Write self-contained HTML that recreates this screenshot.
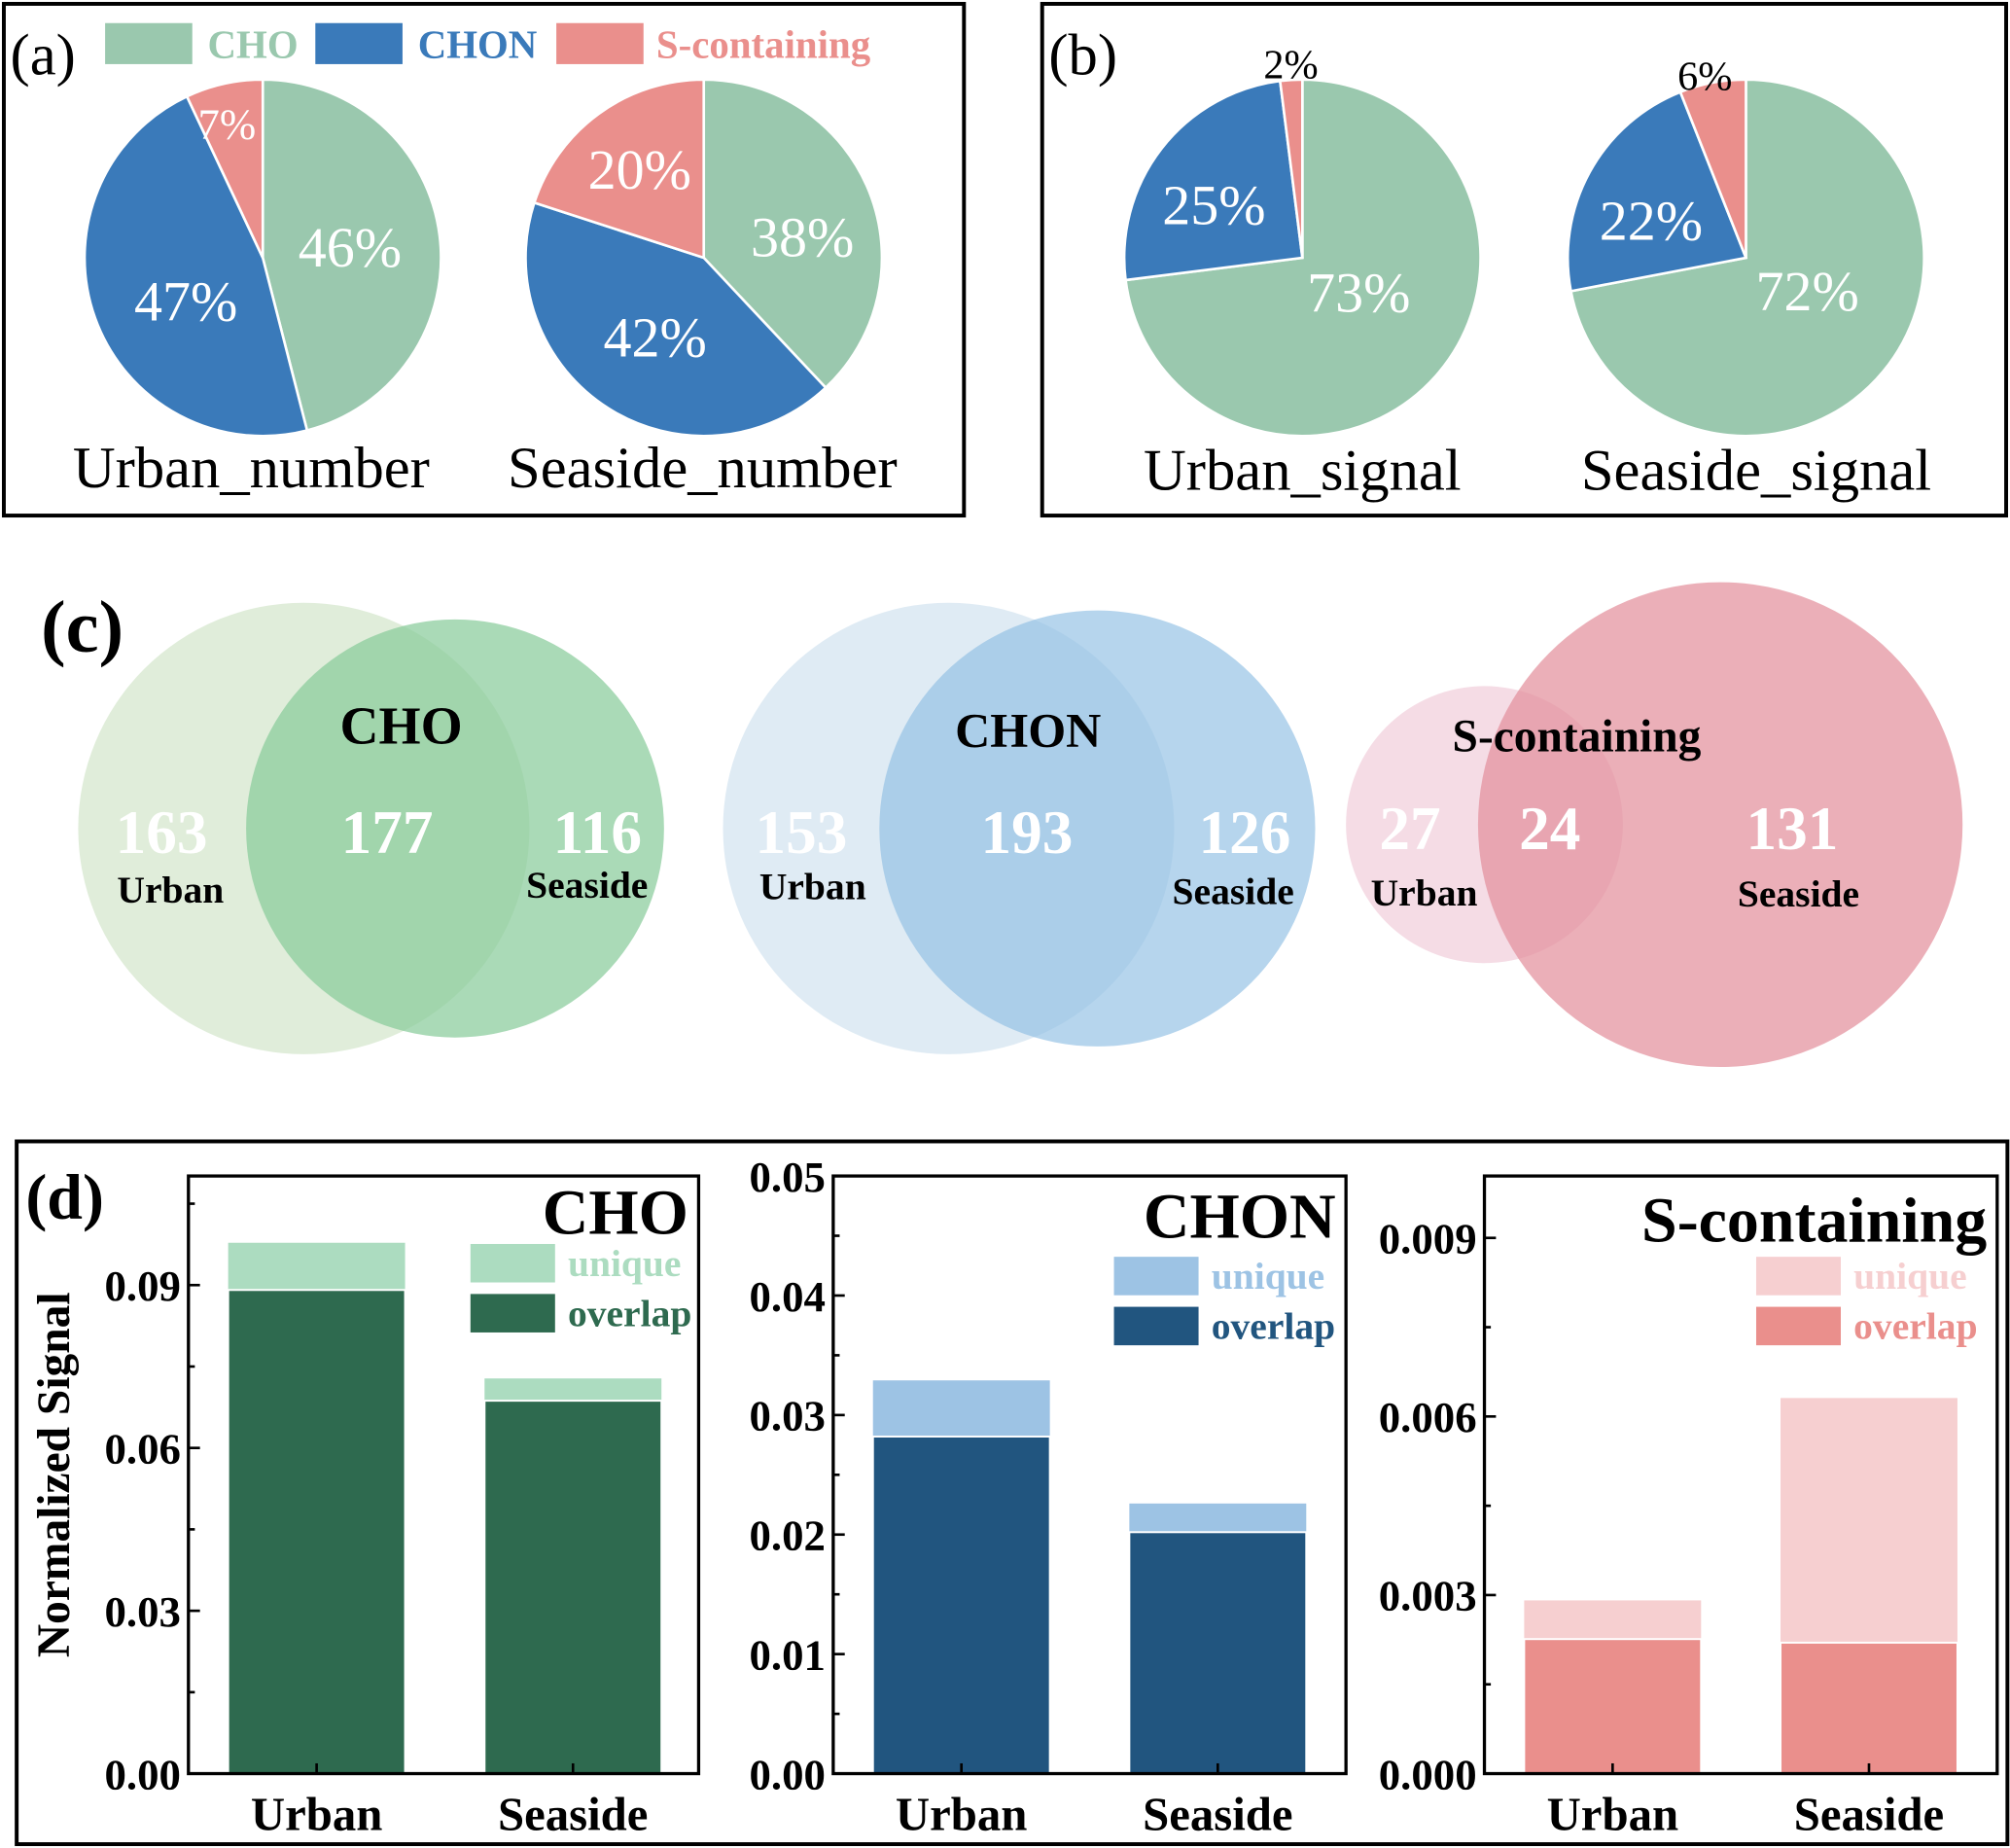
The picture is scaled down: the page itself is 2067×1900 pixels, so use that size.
<!DOCTYPE html>
<html><head><meta charset="utf-8"><style>
html,body{margin:0;padding:0;background:#fff}
svg{display:block;font-family:"Liberation Serif","Times New Roman",serif}
text{font-family:"Liberation Serif","Times New Roman",serif}
</style></head><body>
<svg id="fig" width="2067" height="1900" viewBox="0 0 1568 1441" preserveAspectRatio="none" xmlns="http://www.w3.org/2000/svg">
<rect x="0" y="0" width="1568" height="1441" fill="#fff"/>
<g id="pa">
<rect x="3" y="3" width="749" height="399" fill="none" stroke="#000" stroke-width="3"/>
<text x="8" y="58" font-size="46">(a)</text>
<rect x="82" y="18" width="68" height="32" fill="#9ac8ae"/><text x="162" y="45" font-size="31" font-weight="bold" fill="#9ac8ae">CHO</text>
<rect x="246" y="18" width="68" height="32" fill="#3a7aba"/><text x="326" y="45" font-size="31" font-weight="bold" fill="#3a7aba">CHON</text>
<rect x="434" y="18" width="68" height="32" fill="#ea8f8c"/><text x="512" y="45" font-size="31" font-weight="bold" fill="#ea8f8c">S-containing</text>
<text x="196" y="380" font-size="46" text-anchor="middle">Urban_number</text>
<text x="548" y="380" font-size="46" text-anchor="middle">Seaside_number</text>
</g>
<g id="pb">
<rect x="813" y="3" width="752" height="399" fill="none" stroke="#000" stroke-width="3"/>
<text x="818" y="58" font-size="46">(b)</text>
<text x="1016" y="382" font-size="46" text-anchor="middle">Urban_signal</text>
<text x="1370" y="382" font-size="46" text-anchor="middle">Seaside_signal</text>
</g>
<g id="pies"></g>
<g id="pc">
<text x="32" y="508" font-size="58" font-weight="bold">(c)</text>
<circle cx="237" cy="646" r="176" fill="#cfe3c6" opacity="0.65"/>
<circle cx="355" cy="646" r="163" fill="#86cb98" opacity="0.7"/>
<text x="313" y="580" font-size="42" font-weight="bold" text-anchor="middle">CHO</text>
<text x="126" y="665" font-size="48" font-weight="bold" fill="#fff" text-anchor="middle">163</text>
<text x="302" y="665" font-size="48" font-weight="bold" fill="#fff" text-anchor="middle">177</text>
<text x="466" y="665" font-size="48" font-weight="bold" fill="#fff" text-anchor="middle">116</text>
<text x="133" y="704" font-size="30" font-weight="bold" text-anchor="middle">Urban</text>
<text x="458" y="700" font-size="30" font-weight="bold" text-anchor="middle">Seaside</text>
<circle cx="740" cy="646" r="176" fill="#c9deec" opacity="0.6"/>
<circle cx="856" cy="646" r="170" fill="#8fbfe3" opacity="0.65"/>
<text x="802" y="582" font-size="38" font-weight="bold" text-anchor="middle">CHON</text>
<text x="625" y="665" font-size="48" font-weight="bold" fill="#fff" text-anchor="middle">153</text>
<text x="801" y="665" font-size="48" font-weight="bold" fill="#fff" text-anchor="middle">193</text>
<text x="971" y="665" font-size="48" font-weight="bold" fill="#fff" text-anchor="middle">126</text>
<text x="634" y="701" font-size="30" font-weight="bold" text-anchor="middle">Urban</text>
<text x="962" y="705" font-size="30" font-weight="bold" text-anchor="middle">Seaside</text>
<circle cx="1158" cy="643" r="108" fill="#efc4d3" opacity="0.6"/>
<circle cx="1342" cy="643" r="189" fill="#e3909c" opacity="0.72"/>
<text x="1230" y="586" font-size="36" font-weight="bold" text-anchor="middle">S-containing</text>
<text x="1100" y="662" font-size="48" font-weight="bold" fill="#fff" text-anchor="middle">27</text>
<text x="1209" y="662" font-size="48" font-weight="bold" fill="#fff" text-anchor="middle">24</text>
<text x="1398" y="662" font-size="48" font-weight="bold" fill="#fff" text-anchor="middle">131</text>
<text x="1111" y="706" font-size="30" font-weight="bold" text-anchor="middle">Urban</text>
<text x="1403" y="707" font-size="30" font-weight="bold" text-anchor="middle">Seaside</text>
</g>
<g id="pd">
<rect x="13" y="890" width="1553" height="548" fill="none" stroke="#000" stroke-width="3"/>
<text x="20" y="950" font-size="50" font-weight="bold">(d)</text>
<text transform="translate(54,1150) rotate(-90)" font-size="36" font-weight="bold" text-anchor="middle">Normalized Signal</text>
</g>
<g id="bars"></g>
</svg>
<script>
const NS="http://www.w3.org/2000/svg";
// pie data
const pieNames=["Urban_number","Seaside_number","Urban_signal","Seaside_signal"];
const pieCHO=[46,38,73,72];
const pieCHON=[47,42,25,22];
const pieS=[7,20,2,6];
// layout: pie centres and label offsets (pixels, not data)
const pieCx=[205,549,1016,1362];
const labelDx=[[68,-60,-28],[77,-38,-50],[44,-69,-9],[48,-74,-32]];
const labelDy=[[-8,34,-108],[-16,62,-69],[27,-41,-155],[26,-29,-146]];
const pieCy=201, pieR=139;
const pieColors=["#9ac8ae","#3a7aba","#ea8f8c"];
function mk(tag,attrs,parent){const e=document.createElementNS(NS,tag);for(const k in attrs)e.setAttribute(k,attrs[k]);parent.appendChild(e);return e;}
const pies=document.getElementById('pies');
pieNames.forEach((nm,i)=>{
  const vals=[pieCHO[i],pieCHON[i],pieS[i]];
  const tot=vals.reduce((a,b)=>a+b,0);
  let a0=0;
  const cx=pieCx[i],cy=pieCy;
  vals.forEach((v,j)=>{
    const a1=a0+v/tot*2*Math.PI;
    const p=(a)=>[cx+pieR*Math.sin(a),cy-pieR*Math.cos(a)];
    const s=p(a0),e=p(a1);
    const large=(a1-a0)>Math.PI?1:0;
    const path=mk('path',{d:`M${cx},${cy} L${s[0]},${s[1]} A${pieR},${pieR} 0 ${large} 1 ${e[0]},${e[1]} Z`,fill:pieColors[j],stroke:"#fff","stroke-width":2},pies);
    
    
    const small=v<10;
    const t=mk('text',{x:cx+labelDx[i][j],y:cy+labelDy[i][j]+15,"font-size":small?(i<2?34:32):44,"text-anchor":"middle",fill:(small&&i>=2)?"#000":"#fff"},pies);
    t.textContent=v+"%";
    
    
    a0=a1;
  });
});
// bar data
const barCats=["Urban","Seaside"];
const choOverlap=[0.0891,0.0687], choTotal=[0.0978,0.0728];
const chonOverlap=[0.0282,0.0202], chonTotal=[0.0329,0.0226];
const sOverlap=[0.00226,0.00220], sTotal=[0.00291,0.00631];
const choTicks=["0.00","0.03","0.06","0.09"], chonTicks=["0.00","0.01","0.02","0.03","0.04","0.05"], sTicks=["0.000","0.003","0.006","0.009"];
const plots=[
 {title:"CHO",x0:147,x1:545,ymax:0.1101,step:0.03,ticks:choTicks,ov:choOverlap,tot:choTotal,dark:"#2e6a4f",light:"#acdcc0",lx:367,ly:970,ty:962},
 {title:"CHON",x0:650,x1:1050,ymax:0.05,step:0.01,ticks:chonTicks,ov:chonOverlap,tot:chonTotal,dark:"#21557f",light:"#9dc3e4",lx:869,ly:980,ty:965},
 {title:"S-containing",x0:1158,x1:1558,ymax:0.01004,step:0.003,ticks:sTicks,ov:sOverlap,tot:sTotal,dark:"#ea8f8c",light:"#f6cfd0",lx:1370,ly:980,ty:968}
];
const Y0=1383,Y1=917;
const bars=document.getElementById('bars');
plots.forEach((pl,pi)=>{
  const y=v=>Y0-(v/pl.ymax)*(Y0-Y1);
  const w=pl.x1-pl.x0;
  const bw=138;
  barCats.forEach((c,i)=>{
    const bx=pl.x0+31+i*200;
    const r1=mk('rect',{x:bx,y:y(pl.tot[i]),width:bw,height:Y0-y(pl.tot[i]),fill:pl.light},bars);
    
    
    const r2=mk('rect',{x:bx,y:y(pl.ov[i]),width:bw,height:Y0-y(pl.ov[i]),fill:pl.dark,stroke:"#fff","stroke-width":1.5},bars);
    
    
    const t=mk('text',{x:bx+bw/2,y:1427,"font-size":37,"font-weight":"bold","text-anchor":"middle"},bars);
    t.textContent=c;
    
    
    mk('line',{x1:bx+bw/2,x2:bx+bw/2,y1:Y0,y2:Y0-8,stroke:"#000","stroke-width":2},bars);
  });
  const fr=mk('rect',{x:pl.x0,y:Y1,width:w,height:Y0-Y1,fill:"none",stroke:"#000","stroke-width":2.5},bars);
  
  
  pl.ticks.forEach((tk,k)=>{
    const v=k*pl.step, ty=y(v);
    mk('line',{x1:pl.x0,x2:pl.x0+9,y1:ty,y2:ty,stroke:"#000","stroke-width":2},bars);
    const mv=v+pl.step/2;
    if(mv<pl.ymax) mk('line',{x1:pl.x0,x2:pl.x0+5,y1:y(mv),y2:y(mv),stroke:"#000","stroke-width":2},bars);
    const t=mk('text',{x:pl.x0-6,y:ty+12,"font-size":34,"font-weight":"bold","text-anchor":"end"},bars);
    t.textContent=tk;
    
    
  });
  const tt=mk('text',{x:pl.x1-8,y:pl.ty,"font-size":50,"font-weight":"bold","text-anchor":"end"},bars);
  tt.textContent=pl.title;
  
  
  const lu=mk('rect',{x:pl.lx,y:pl.ly,width:66,height:30,fill:pl.light},bars);
  
  
  const lo=mk('rect',{x:pl.lx,y:pl.ly+39,width:66,height:30,fill:pl.dark},bars);
  
  
  const t1=mk('text',{x:pl.lx+76,y:pl.ly+25,"font-size":30,"font-weight":"bold",fill:pl.light},bars);
  t1.textContent="unique";
  
  
  const t2=mk('text',{x:pl.lx+76,y:pl.ly+64,"font-size":30,"font-weight":"bold",fill:pl.dark},bars);
  t2.textContent="overlap";
  
  
});
</script>
</body></html>
